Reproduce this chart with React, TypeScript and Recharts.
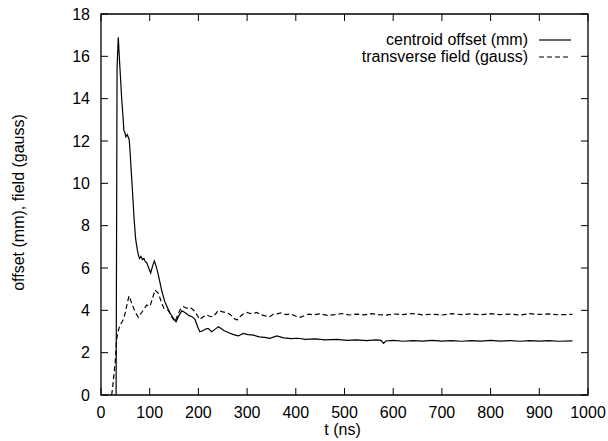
import { LineChart, Line, XAxis, YAxis, ReferenceArea, Legend } from "recharts";

// axis ticks
const xTicks = [0, 100, 200, 300, 400, 500, 600, 700, 800, 900, 1000];
const yTicks = [0, 2, 4, 6, 8, 10, 12, 14, 16, 18];

// centroid offset (mm)
const offsetTimes = [
  31, 33, 35.5, 37.5, 40, 42.5, 45, 47, 49, 51, 54, 58, 60, 62, 65, 68, 71, 74.6, 77, 79,
  82, 85, 88, 91, 94, 98, 102, 106, 109.5, 113, 117, 120, 125, 131, 137, 142, 148, 154, 160, 166,
  169, 175, 181, 187, 193, 198, 203, 210, 215, 220, 227, 234, 241, 246, 252, 258, 265, 272, 282, 292,
  302, 313, 325, 336, 347, 361, 375, 390, 405, 420, 440, 460, 484, 505, 525, 545, 565, 575, 580, 585,
  600, 620, 640, 660, 680, 700, 720, 740, 760, 780, 800, 820, 840, 860, 880, 900, 920, 940, 968,
];
const offsetValues = [
  0, 15.5, 16.9, 16.0, 15.0, 14.0, 13.2, 12.5, 12.4, 12.2, 12.3, 12.05, 11.4, 10.6, 9.5, 8.3, 7.4, 6.85, 6.6, 6.45,
  6.55, 6.4, 6.45, 6.3, 6.25, 6.0, 5.76, 6.1, 6.33, 6.1, 5.75, 5.43, 4.9, 4.41, 4.1, 3.86, 3.65, 3.46, 3.75, 3.98,
  3.94, 3.85, 3.75, 3.7, 3.57, 3.25, 2.99, 3.05, 3.12, 3.15, 2.99, 3.1, 3.23, 3.15, 3.05, 2.99, 2.92, 2.85, 2.79, 2.91,
  2.85, 2.83, 2.75, 2.72, 2.68, 2.79, 2.7, 2.66, 2.68, 2.63, 2.65, 2.6, 2.63, 2.58, 2.6, 2.57, 2.6, 2.58, 2.44, 2.55,
  2.58, 2.54, 2.57, 2.55, 2.58, 2.55, 2.57, 2.54, 2.57, 2.55, 2.58, 2.55, 2.57, 2.54, 2.57, 2.55, 2.57, 2.54, 2.56,
];

// transverse field (gauss)
const fieldTimes = [
  22, 25, 29, 32, 35, 39, 43, 46, 50, 54, 57.5, 62, 67, 72, 76.6, 82, 88, 94, 100.6, 105,
  111, 118, 123, 129, 134, 138, 145, 152, 158, 163, 169, 176, 183, 188, 193, 198, 203, 210, 217, 223,
  230, 236, 241, 248, 255, 261, 268, 274, 279, 285, 292, 300, 306, 313, 320, 327, 335, 341, 347, 354,
  361, 370, 380, 390, 400, 409, 418, 427, 436, 450, 465, 480, 495, 510, 525, 540, 555, 570, 585, 600,
  620, 640, 660, 680, 700, 720, 740, 760, 780, 800, 820, 840, 860, 880, 900, 920, 940, 968,
];
const fieldValues = [
  0, 0.6, 1.5, 2.6, 3.0, 3.3, 3.45, 3.57, 3.9, 4.35, 4.68, 4.4, 4.1, 3.85, 3.67, 3.85, 4.05, 4.25, 4.2, 4.5,
  4.96, 4.8, 4.45, 4.1, 4.05, 4.0, 3.7, 3.46, 3.8, 4.05, 4.17, 4.1, 4.14, 4.05, 3.94, 3.75, 3.57, 3.7, 3.78, 3.72,
  3.7, 3.85, 4.0, 3.94, 3.9, 3.86, 3.75, 3.6, 3.54, 3.7, 3.83, 3.9, 3.85, 3.86, 3.9, 3.8, 3.75, 3.72, 3.7, 3.82,
  3.83, 3.88, 3.8, 3.83, 3.72, 3.67, 3.75, 3.82, 3.78, 3.84, 3.76, 3.8, 3.85, 3.78, 3.82, 3.79, 3.84, 3.8, 3.77, 3.83,
  3.8, 3.85, 3.79, 3.82, 3.78, 3.84, 3.8, 3.83, 3.79, 3.84, 3.8, 3.82, 3.78, 3.84, 3.81, 3.83, 3.79, 3.81,
];

const offsetData = offsetTimes.map((t, i) => ({ t, v: offsetValues[i] }));
const fieldData = fieldTimes.map((t, i) => ({ t, v: fieldValues[i] }));

const FONT = "'Liberation Sans', Arial, Helvetica, sans-serif";
const W = 608;
const H = 441;
const margin = { top: 14, right: 20, bottom: 0, left: 0 };
const Y_AXIS_W = 101;
const X_AXIS_H = 46;
const plotTop = margin.top;
const plotBottom = H - margin.bottom - X_AXIS_H;
const plotLeft = margin.left + Y_AXIS_W;
const plotRight = W - margin.right;
const TICK = 7;

// gnuplot style: ticks point inward, mirrored on the opposite side
function XTick(props: any) {
  const { x, payload } = props;
  return (
    <g>
      <line x1={x} y1={plotBottom} x2={x} y2={plotBottom - TICK} stroke="#000" />
      <line x1={x} y1={plotTop} x2={x} y2={plotTop + TICK} stroke="#000" />
      <text x={x} y={plotBottom + 23} textAnchor="middle" fontSize={16} fontFamily={FONT} fill="#000">
        {payload.value}
      </text>
    </g>
  );
}

function YTick(props: any) {
  const { y, payload } = props;
  return (
    <g>
      <line x1={plotLeft} y1={y} x2={plotLeft + TICK} y2={y} stroke="#000" />
      <line x1={plotRight} y1={y} x2={plotRight - TICK} y2={y} stroke="#000" />
      <text x={plotLeft - 11} y={y + 5.8} textAnchor="end" fontSize={16} fontFamily={FONT} fill="#000">
        {payload.value}
      </text>
    </g>
  );
}

function KeyBox(props: any) {
  const { payload } = props;
  return (
    <div style={{ fontFamily: FONT, fontSize: 16, color: "#000" }}>
      {(payload || []).map((entry: any) => (
        <div
          key={entry.value}
          style={{ display: "flex", justifyContent: "flex-end", alignItems: "center", height: 17 }}
        >
          <span style={{ lineHeight: "17px" }}>{entry.value}</span>
          <svg width={32} height={10} style={{ marginLeft: 11 }}>
            <line
              x1={0}
              y1={5}
              x2={32}
              y2={5}
              stroke="#000"
              strokeWidth={1.2}
              strokeDasharray={entry.payload?.strokeDasharray}
            />
          </svg>
        </div>
      ))}
    </div>
  );
}

export default function App() {
  return (
    <div style={{ position: "absolute", left: 0, top: 0, background: "#fff" }}>
      <LineChart width={W} height={H} margin={margin}>
        <XAxis
          dataKey="t"
          type="number"
          domain={[0, 1000]}
          ticks={xTicks}
          interval={0}
          allowDataOverflow
          axisLine={false}
          tickLine={false}
          tick={<XTick />}
          height={X_AXIS_H}
          label={{
            content: (p: any) => {
              const vb = p.viewBox;
              return (
                <text x={vb.x + vb.width / 2 - 2} y={435} textAnchor="middle" fontSize={16} fontFamily={FONT} fill="#000">
                  t (ns)
                </text>
              );
            },
          }}
        />
        <YAxis
          type="number"
          domain={[0, 18]}
          ticks={yTicks}
          interval={0}
          allowDataOverflow
          axisLine={false}
          tickLine={false}
          tick={<YTick />}
          width={Y_AXIS_W}
          label={{
            content: (p: any) => {
              const vb = p.viewBox;
              const cy = vb.y + vb.height / 2 - 2;
              return (
                <text
                  x={18}
                  y={cy}
                  transform={`rotate(-90 18 ${cy})`}
                  textAnchor="middle"
                  dominantBaseline="central"
                  fontSize={16}
                  fontFamily={FONT}
                  fill="#000"
                >
                  offset (mm), field (gauss)
                </text>
              );
            },
          }}
        />
        <ReferenceArea x1={0} x2={1000} y1={0} y2={18} fill="none" stroke="#000" strokeWidth={1.3} />
        <Legend
          layout="horizontal"
          verticalAlign="middle"
          align="center"
          content={<KeyBox />}
          wrapperStyle={{ position: "absolute", top: 31, left: 0, width: W - 37 }}
        />
        <Line
          data={offsetData}
          dataKey="v"
          name="centroid offset (mm)"
          type="linear"
          stroke="#000"
          strokeWidth={1.2}
          dot={false}
          isAnimationActive={false}
        />
        <Line
          data={fieldData}
          dataKey="v"
          name="transverse field (gauss)"
          type="linear"
          stroke="#000"
          strokeWidth={1.2}
          strokeDasharray="5 3"
          dot={false}
          isAnimationActive={false}
        />
      </LineChart>
    </div>
  );
}
